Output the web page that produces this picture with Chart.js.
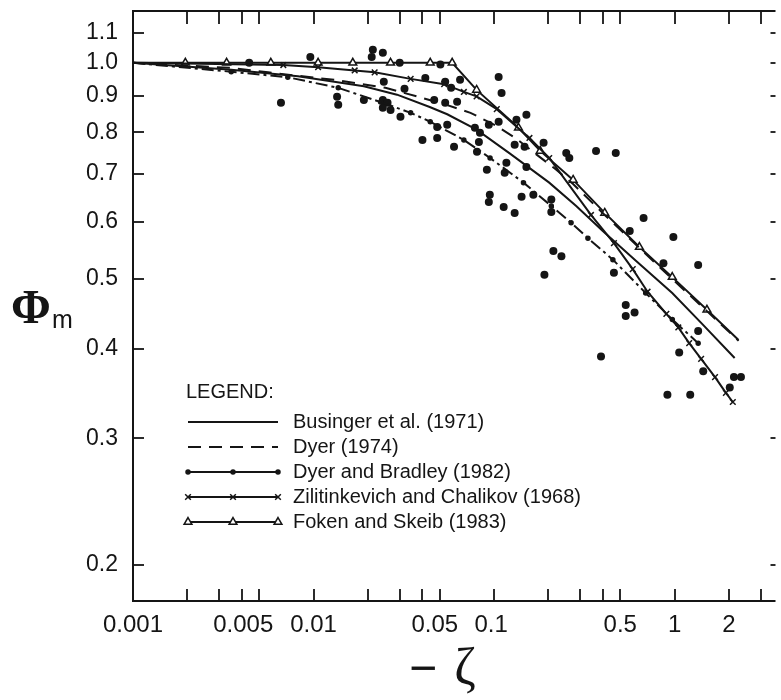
<!DOCTYPE html>
<html>
<head>
<meta charset="utf-8">
<script src="https://cdn.jsdelivr.net/npm/chart.js@4.4.1/dist/chart.umd.min.js"></script>
<style>
  body { margin: 0; background: #fff; }
  #wrap { width: 781px; height: 700px; }
</style>
</head>
<body>
<div id="wrap"><canvas id="phi-chart" width="781" height="700"></canvas></div>
<script>
// Axis ranges and ticks
const xRange = [0.001, 3.62];
const yRange = [0.178, 1.181];
const xTicks = [0.001, 0.002, 0.003, 0.004, 0.005, 0.01, 0.02, 0.03, 0.04, 0.05, 0.1, 0.2, 0.3, 0.4, 0.5, 1, 2, 3];
const xTickLabels = ['0.001', '', '', '', '0.005', '0.01', '', '', '', '0.05', '0.1', '', '', '', '0.5', '1', '2', ''];
const yTicks = [0.2, 0.3, 0.4, 0.5, 0.6, 0.7, 0.8, 0.9, 1.0, 1.1];
const yTickLabels = ['0.2', '0.3', '0.4', '0.5', '0.6', '0.7', '0.8', '0.9', '1.0', '1.1'];

// Curves
const busX = [0.001, 0.0035, 0.0082, 0.019, 0.029, 0.044, 0.055, 0.080, 0.122, 0.202, 0.285, 0.40, 0.61, 0.97, 1.42, 2.15];
const busY = [1.0, 0.978, 0.958, 0.928, 0.903, 0.868, 0.848, 0.807, 0.748, 0.681, 0.632, 0.583, 0.530, 0.478, 0.433, 0.388];

const dyerX = [0.001, 0.0035, 0.0056, 0.013, 0.025, 0.038, 0.053, 0.074, 0.104, 0.133, 0.172, 0.221, 0.274, 0.41, 0.64, 0.97, 1.51, 2.26];
const dyerY = [1.0, 0.984, 0.970, 0.947, 0.923, 0.897, 0.876, 0.852, 0.816, 0.784, 0.745, 0.710, 0.678, 0.614, 0.552, 0.500, 0.451, 0.410];

const dbX = [0.001, 0.0035, 0.0072, 0.0137, 0.0235, 0.0345, 0.0443, 0.068, 0.095, 0.1455, 0.2075, 0.267, 0.331, 0.455, 0.691, 0.971, 1.35];
const dbY = [1.0, 0.972, 0.955, 0.923, 0.882, 0.852, 0.828, 0.781, 0.737, 0.681, 0.632, 0.599, 0.570, 0.532, 0.478, 0.439, 0.407];

const zcX = [0.001, 0.0068, 0.0106, 0.0169, 0.0218, 0.0345, 0.0529, 0.068, 0.080, 0.1035, 0.157, 0.202, 0.344, 0.461, 0.586, 0.708, 0.900, 1.048, 1.204, 1.402, 1.674, 1.923, 2.10];
const zcY = [1.0, 0.993, 0.986, 0.976, 0.970, 0.950, 0.934, 0.911, 0.898, 0.862, 0.786, 0.737, 0.614, 0.561, 0.516, 0.480, 0.447, 0.428, 0.407, 0.387, 0.365, 0.347, 0.337];

const fkX = [0.001, 0.00195, 0.0033, 0.0058, 0.0106, 0.0165, 0.0267, 0.0443, 0.0586, 0.080, 0.1365, 0.180, 0.274, 0.41, 0.638, 0.97, 1.51, 2.26];
const fkY = [1.0, 1.0, 1.0, 1.0, 1.0, 1.0, 1.0, 1.0, 1.0, 0.917, 0.812, 0.754, 0.687, 0.618, 0.554, 0.503, 0.453, 0.411];

// Observations
const obsX = [0.0044, 0.0066, 0.0096, 0.0135, 0.0137, 0.019, 0.021, 0.0213, 0.0242, 0.0245, 0.0242, 0.0257, 0.0242, 0.0267, 0.0303, 0.0319, 0.030,
  0.0401, 0.0466, 0.0536, 0.0624, 0.0484, 0.0484, 0.055, 0.060, 0.0648, 0.0504, 0.0416, 0.0536, 0.0578, 0.0783, 0.0835, 0.0824, 0.0804,
  0.0935, 0.0912, 0.106, 0.110, 0.106, 0.117, 0.1145, 0.0947, 0.0935, 0.113, 0.130, 0.133, 0.151, 0.1475, 0.130, 0.151, 0.142, 0.188,
  0.165, 0.2075, 0.2075, 0.251, 0.261, 0.367, 0.472, 0.673, 0.984, 0.564, 1.35, 0.867, 0.213, 0.236, 0.190, 0.461, 0.536, 0.536, 0.600,
  1.35, 0.391, 1.06, 1.44, 0.912, 1.22, 2.13, 2.33, 2.02];
const obsY = [1.0, 0.880, 1.019, 0.897, 0.874, 0.888, 1.019, 1.043, 1.033, 0.941, 0.888, 0.880, 0.866, 0.860, 0.841, 0.920, 1.0,
  0.781, 0.888, 0.880, 0.883, 0.814, 0.786, 0.820, 0.764, 0.947, 0.995, 0.953, 0.941, 0.923, 0.812, 0.799, 0.776, 0.752,
  0.820, 0.710, 0.956, 0.908, 0.828, 0.726, 0.703, 0.655, 0.640, 0.630, 0.618, 0.833, 0.847, 0.764, 0.769, 0.716, 0.651, 0.774,
  0.655, 0.645, 0.620, 0.749, 0.737, 0.754, 0.749, 0.608, 0.572, 0.583, 0.523, 0.526, 0.547, 0.538, 0.507, 0.510, 0.460, 0.444, 0.449,
  0.423, 0.390, 0.395, 0.372, 0.345, 0.345, 0.365, 0.365, 0.353];

const legendNames = ['Businger et al. (1971)', 'Dyer (1974)', 'Dyer and Bradley (1982)', 'Zilitinkevich and Chalikov (1968)', 'Foken and Skeib (1983)'];

const ink = '#151515';
const sans = "'Liberation Sans', Arial, sans-serif";
const serif = "'Liberation Serif', 'Times New Roman', serif";
Chart.defaults.font.family = sans;
Chart.defaults.color = ink;

// crowded x labels are nudged left, as in the original figure
const xLabelNudge = { '0.005': -16, '0.05': -5, '0.1': -3 };

const zip = (xs, ys) => xs.map((x, i) => ({ x, y: ys[i] }));

// style of each curve (plot dash, legend dash, marker)
const curveStyles = [
  { dash: [], legendDash: [], pointStyle: false, radius: 0 },
  { dash: [13, 8], legendDash: [13, 8], pointStyle: false, radius: 0 },
  { dash: [12, 4, 3, 4], legendDash: [], pointStyle: 'circle', radius: 2, fill: ink },
  { dash: [], legendDash: [], pointStyle: 'crossRot', radius: 4, fill: ink },
  { dash: [], legendDash: [], pointStyle: 'triangle', radius: 4.5, fill: '#fff' }
];
const curves = [[busX, busY], [dyerX, dyerY], [dbX, dbY], [zcX, zcY], [fkX, fkY]];

const datasets = curves.map(([xs, ys], i) => {
  const st = curveStyles[i];
  return {
    label: legendNames[i],
    data: zip(xs, ys),
    showLine: true,
    borderColor: ink,
    borderWidth: 2,
    borderDash: st.dash,
    backgroundColor: st.fill || ink,
    pointStyle: st.pointStyle || 'circle',
    pointBorderWidth: 1.5,
    pointRadius: ctx => (ctx.dataIndex === 0 || (i === 4 && ctx.dataIndex === xs.length - 1)) ? 0 : st.radius,
    pointHoverRadius: 0
  };
});
datasets.push({
  label: 'observations',
  data: zip(obsX, obsY),
  showLine: false,
  pointStyle: 'circle',
  pointRadius: 4,
  backgroundColor: ink,
  borderColor: ink,
  borderWidth: 0
});

function strokeLine(ctx, x1, y1, x2, y2) {
  ctx.beginPath();
  ctx.moveTo(x1, y1);
  ctx.lineTo(x2, y2);
  ctx.stroke();
}

const framePlugin = {
  id: 'frame',
  afterDraw(chart) {
    const { ctx, chartArea: a, scales: { x, y } } = chart;
    ctx.save();
    ctx.strokeStyle = ink;
    ctx.lineWidth = 2;
    ctx.beginPath();
    ctx.moveTo(a.right, a.top);
    ctx.lineTo(a.left, a.top);
    ctx.lineTo(a.left, a.bottom);
    ctx.lineTo(a.right, a.bottom);
    ctx.stroke();

    // inward tick marks on all sides
    ctx.lineWidth = 1.8;
    xTicks.forEach(v => {
      if (v === xRange[0]) return;
      const px = Math.round(x.getPixelForValue(v));
      strokeLine(ctx, px, a.bottom, px, a.bottom - 12);
      strokeLine(ctx, px, a.top, px, a.top + 13);
    });
    yTicks.forEach(v => {
      const py = Math.round(y.getPixelForValue(v));
      strokeLine(ctx, a.left, py, a.left + 11, py);
      strokeLine(ctx, a.right, py, a.right - 5, py);
    });

    // x tick labels
    ctx.fillStyle = ink;
    ctx.textAlign = 'center';
    ctx.textBaseline = 'alphabetic';
    ctx.font = '24px ' + sans;
    xTicks.forEach((v, i) => {
      const lab = xTickLabels[i];
      if (!lab) return;
      ctx.fillText(lab, x.getPixelForValue(v) + (xLabelNudge[lab] || 0), a.bottom + 31);
    });

    // axis titles
    ctx.textAlign = 'left';
    ctx.font = 'bold 48px ' + serif;
    ctx.fillText('Φ', 11, 323);
    ctx.font = '25px ' + sans;
    ctx.fillText('m', 52, 328);
    ctx.textAlign = 'center';
    ctx.font = '48px ' + sans;
    ctx.fillText('−', 423, 684);
    ctx.font = '52px ' + serif;
    ctx.fillText('ζ', 465, 684);

    // legend
    ctx.textAlign = 'left';
    ctx.textBaseline = 'middle';
    ctx.font = '20px ' + sans;
    ctx.fillText('LEGEND:', 186, 392);
    const x0 = 188, x1 = 278;
    legendNames.forEach((name, i) => {
      const st = curveStyles[i];
      const ly = 422 + i * 25;
      ctx.lineWidth = 2;
      ctx.setLineDash(st.legendDash);
      strokeLine(ctx, x0, ly, x1, ly);
      ctx.setLineDash([]);
      if (st.pointStyle) {
        [x0, (x0 + x1) / 2, x1].forEach(mx => {
          ctx.fillStyle = st.fill;
          ctx.lineWidth = 1.5;
          Chart.helpers.drawPoint(ctx, { pointStyle: st.pointStyle, radius: st.radius, rotation: 0, borderWidth: 1.5 }, mx, ly);
        });
      }
      ctx.fillStyle = ink;
      ctx.font = '20px ' + sans;
      ctx.fillText(name, 293, ly);
    });
    ctx.restore();
  }
};

new Chart(document.getElementById('phi-chart'), {
  type: 'scatter',
  data: { datasets },
  options: {
    responsive: false,
    devicePixelRatio: 1,
    animation: false,
    layout: { padding: { top: 11, right: 0, bottom: 0, left: 0 } },
    plugins: { legend: { display: false }, tooltip: { enabled: false } },
    scales: {
      x: {
        type: 'logarithmic',
        min: xRange[0],
        max: xRange[1],
        grid: { display: false, drawTicks: false },
        border: { display: false },
        afterBuildTicks: s => { s.ticks = xTicks.map(v => ({ value: v })); },
        afterFit: s => { s.height = 99; s.paddingLeft = 0; s.paddingRight = 0; },
        ticks: { display: false, autoSkip: false, maxRotation: 0, minRotation: 0 }
      },
      y: {
        type: 'logarithmic',
        min: yRange[0],
        max: yRange[1],
        grid: { display: false, drawTicks: false },
        border: { display: false },
        afterBuildTicks: s => { s.ticks = yTicks.map(v => ({ value: v })); },
        afterFit: s => { s.width = 133; s.paddingTop = 0; s.paddingBottom = 0; },
        ticks: {
          autoSkip: false,
          padding: 15,
          font: { size: 23 },
          callback: v => yTickLabels[yTicks.indexOf(v)] ?? ''
        }
      }
    }
  },
  plugins: [framePlugin]
});
</script>
</body>
</html>
